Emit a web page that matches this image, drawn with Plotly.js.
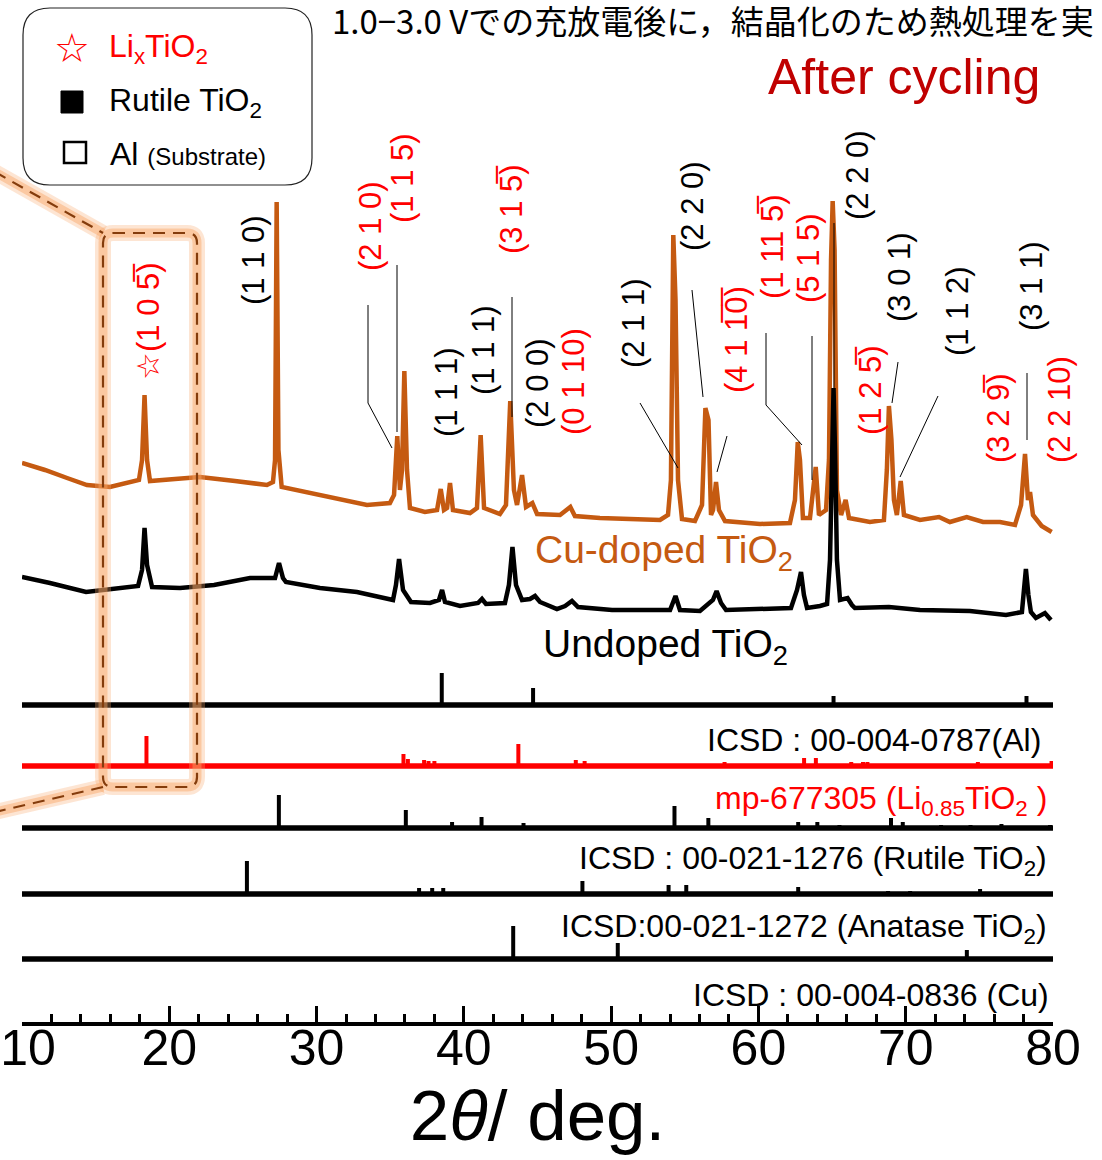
<!DOCTYPE html>
<html><head><meta charset="utf-8">
<script src="https://cdn.plot.ly/plotly-3.0.1.min.js"></script>
<style>html,body{margin:0;padding:0;background:#fff}</style>
</head><body><div id="chart" style="width:1102px;height:1160px"></div>
<script>
// ---------- DATA (2θ in degrees, intensity in a.u.) ----------
const cuDopedTheta = [10.0,11.56,13.06,14.41,15.97,17.54,17.94,18.15,18.32,18.49,18.69,20.39,22.08,24.46,26.63,27.04,27.18,27.29,27.41,27.63,28.87,31.11,33.42,34.98,35.26,35.48,35.66,35.80,35.96,36.14,36.34,37.36,38.18,38.43,38.65,38.86,39.06,39.26,40.42,40.89,41.14,41.37,42.45,42.86,43.15,43.40,43.61,43.95,44.22,44.65,44.97,46.53,47.23,47.54,49.24,51.28,53.32,53.86,54.06,54.22,54.37,54.54,54.81,55.69,56.17,56.40,56.61,56.78,56.92,57.12,57.32,57.73,60.11,62.14,62.48,62.67,62.82,63.02,63.50,63.89,64.11,64.59,64.79,64.93,65.04,65.17,65.33,65.61,65.92,66.15,67.57,68.52,68.72,68.86,69.03,69.20,69.40,69.66,69.88,70.97,72.26,73.00,74.14,75.25,76.40,77.42,77.83,78.10,78.30,78.44,78.64,79.23,79.91];
const cuDopedIntensity = [77,70,62,55,53,58,60,80,145,80,59,61,63,59,55,58,80,338,90,53,49,42,35,37,45,104,50,70,169,70,32,28,30,51,30,32,57,30,27,32,105,32,26,35,139,50,35,65,33,37,26,25,33,24,22,21,20,25,60,305,240,60,21,19,35,132,120,25,30,58,30,19,16,17,40,98,80,22,22,73,25,30,80,280,339,290,50,25,40,22,18,20,70,134,100,40,25,59,25,20,23,18,23,18,18,15,35,86,40,48,25,14,8];

const undopedTheta = [10.0,11.90,14.35,16.65,17.88,18.15,18.32,18.49,18.83,20.73,23.04,25.48,27.18,27.45,27.72,27.92,30.23,32.74,35.19,35.39,35.60,35.87,36.41,37.70,38.31,38.52,38.72,39.74,40.96,41.23,41.50,42.79,43.06,43.30,43.54,43.95,44.49,44.83,45.17,46.32,46.87,47.34,47.75,50.06,51.96,54.00,54.37,54.67,56.03,56.91,57.16,57.46,57.80,60.11,62.21,62.62,62.89,63.09,63.30,64.18,64.66,64.86,65.00,65.10,65.20,65.33,65.54,66.05,66.35,66.55,68.86,70.97,74.36,76.81,77.89,78.06,78.16,78.33,78.50,78.84,79.45,79.86];
const undopedIntensity = [48,42,33,37,39,55,97,60,38,37,40,47,47,62,47,43,37,33,25,40,66,35,23,22,25,35,23,19,22,26,21,22,40,78,40,25,26,29,23,16,19,24,18,15,15,15,29,15,14,25,34,22,15,16,17,35,53,30,17,19,21,65,175,237,175,65,25,27,20,17,18,15,14,10,13,35,56,30,13,7,12,5];

// Reference stick patterns
const alTheta = [38.5, 44.7, 65.1, 78.2];
const alHeight = [32, 17, 9, 9];
const liTiO2Theta = [18.45, 35.9, 36.2, 37.3, 37.6, 38.0, 43.7, 47.6, 48.2, 57.7, 63.1, 63.9, 66.3, 67.1, 67.4, 74.9, 79.9];
const liTiO2Height = [30, 12, 7, 6, 5, 5, 22, 6, 5, 4, 8, 8, 4, 4, 4, 4, 5];
const rutileTheta = [27.44, 36.06, 39.2, 41.2, 44.05, 54.3, 56.6, 62.7, 64.0, 65.5, 69.0, 69.8, 72.4, 74.4, 76.5, 79.8];
const rutileHeight = [33, 18, 6, 11, 5, 22, 10, 6, 6, 3, 10, 6, 3, 3, 4, 3];
const anataseTheta = [25.27, 36.96, 37.85, 38.6, 48.05, 53.9, 55.1, 62.7, 68.8, 70.3, 75.05];
const anataseHeight = [33, 6, 6, 6, 13, 9, 9, 7, 3, 3, 5];
const cuRefTheta = [43.35, 50.45, 74.15];
const cuRefHeight = [33, 16, 9];

const tickValues = [10, 20, 30, 40, 50, 60, 70, 80];
const tickLabels = ['10', '20', '30', '40', '50', '60', '70', '80'];

// ---------- LAYOUT HELPERS ----------
const W = 1102, H = 1160, ML = 22, MR = 49, MT = 0, MB = 138;
const PW = W - ML - MR, PH = H - MT - MB;
const PX = p => (p - ML) / PW;
const PY = p => (MT + PH - p) / PH;

const ORANGE = '#c55a11', RED = '#ff0000', DARKRED = '#c00000';
const offsets = {cu: 482, undoped: 397, al: 317, li: 256, rutile: 194, anatase: 128, cuRef: 63};

const traces = [];
traces.push({type:'scatter', mode:'lines', x: cuDopedTheta, y: cuDopedIntensity.map(v => v + offsets.cu),
  line:{color: ORANGE, width: 4.5}, hoverinfo:'skip', showlegend:false, name:'Cu-doped TiO2'});
traces.push({type:'scatter', mode:'lines', x: undopedTheta, y: undopedIntensity.map(v => v + offsets.undoped),
  line:{color: '#000', width: 4.5}, hoverinfo:'skip', showlegend:false, name:'Undoped TiO2'});

function stickPattern(theta, h, base, color, name) {
  const x = [], y = [];
  theta.forEach((t, i) => { x.push(t, t, null); y.push(base, base + h[i], null); });
  traces.push({type:'scatter', mode:'lines', x:[9.9, 80.1], y:[base, base], line:{color, width:5.5},
    hoverinfo:'skip', showlegend:false, cliponaxis:false, name: name + ' base'});
  traces.push({type:'scatter', mode:'lines', x, y, line:{color, width:4}, connectgaps:false,
    hoverinfo:'skip', showlegend:false, name});
}
stickPattern(alTheta, alHeight, offsets.al, '#000', 'Al');
stickPattern(liTiO2Theta, liTiO2Height, offsets.li, RED, 'Li0.85TiO2');
stickPattern(rutileTheta, rutileHeight, offsets.rutile, '#000', 'Rutile');
stickPattern(anataseTheta, anataseHeight, offsets.anatase, '#000', 'Anatase');
stickPattern(cuRefTheta, cuRefHeight, offsets.cuRef, '#000', 'Cu');

// ---------- SHAPES ----------
const shapes = [];
function rrPath(x0, y0, x1, y1, r) {
  const X = PX, Y = PY;
  return `M ${X(x0+r)},${Y(y0)} L ${X(x1-r)},${Y(y0)} Q ${X(x1)},${Y(y0)} ${X(x1)},${Y(y0+r)} ` +
         `L ${X(x1)},${Y(y1-r)} Q ${X(x1)},${Y(y1)} ${X(x1-r)},${Y(y1)} L ${X(x0+r)},${Y(y1)} ` +
         `Q ${X(x0)},${Y(y1)} ${X(x0)},${Y(y1-r)} L ${X(x0)},${Y(y0+r)} Q ${X(x0)},${Y(y0)} ${X(x0+r)},${Y(y0)} Z`;
}
function seg(x0, y0, x1, y1, line, layer) {
  shapes.push({type:'line', xref:'paper', yref:'paper', x0:PX(x0), y0:PY(y0), x1:PX(x1), y1:PY(y1), line, layer: layer || 'above'});
}
// highlight box glow + dashed outline
const boxPath = rrPath(103, 233, 197, 787, 10);
[[16, 'rgba(248,170,110,0.30)'], [9, 'rgba(248,165,100,0.45)']].forEach(([w, c]) => {
  shapes.push({type:'path', xref:'paper', yref:'paper', path: boxPath, line:{color:c, width:w}, layer:'above'});
  seg(-5, 172, 103, 233, {color:c, width:w});
  seg(103, 787, -5, 812, {color:c, width:w});
});
shapes.push({type:'path', xref:'paper', yref:'paper', path: boxPath, line:{color:'#843c0c', width:2.2, dash:'12px,8px'}, layer:'above'});
seg(-5, 172, 103, 233, {color:'#843c0c', width:2.2, dash:'12px,8px'});
seg(103, 787, -5, 812, {color:'#843c0c', width:2.2, dash:'12px,8px'});

// legend box
shapes.push({type:'path', xref:'paper', yref:'paper', path: rrPath(23, 8, 312, 185, 27), line:{color:'#222', width:1.2}, fillcolor:'#fff', layer:'above'});
shapes.push({type:'rect', xref:'paper', yref:'paper', x0:PX(61), x1:PX(83), y0:PY(91), y1:PY(113), line:{color:'#000', width:1}, fillcolor:'#000'});
shapes.push({type:'rect', xref:'paper', yref:'paper', x0:PX(64), x1:PX(86), y0:PY(142), y1:PY(163), line:{color:'#000', width:2.5}, fillcolor:'rgba(0,0,0,0)'});

// leader lines
const thin = {color:'#000', width:1};
[[368,305,368,403],[368,403,392,448],[397,265,397,432],[512,297,512,417],[640,403,678,468],
 [692,290,703,397],[727,436,717,472],[766,333,766,405],[766,405,802,445],[812,336,812,480],
 [834,223,834,390],[898,362,892,403],[938,396,900,477],[1027,373,1027,440]].forEach(s => seg(s[0], s[1], s[2], s[3], thin));

// ---------- ANNOTATIONS ----------
const ann = [];
const SANS = 'Liberation Sans, Arial, sans-serif';
function txt(text, x, y, size, color, opts) {
  ann.push(Object.assign({xref:'paper', yref:'paper', x:PX(x), y:PY(y), text, showarrow:false,
    xanchor:'center', yanchor:'middle', font:{family:SANS, size, color}}, opts || {}));
}
const OB = '\u0305';
const hklBlack = [["(1 1 0)",253,260],["(1 1 1)",446,392],["(1 1 1)",483,350],["(2 0 0)",537,383],["(2 1 1)",633,323],
  ["(2 2 0)",692,206],["(2 2 0)",857,175],["(3 0 1)",900,277],["(1 1 2)",957,311],["(3 1 1)",1031,286]];
const hklRed = [["\u2606(1 0 5"+OB+")",149,321],["(2 1 0)",370,226],["(1 1 5)",402,178],["(3 1 5"+OB+")",512,209],
  ["(0 1 10)",573,382],["(4 1 1"+OB+"0"+OB+")",736,340],["(1 11 5"+OB+")",772,247],["(5 1 5)",808,258],
  ["(1 2 5"+OB+")",870,390],["(3 2 9"+OB+")",998,418],["(2 2 10)",1059,410]];
hklBlack.forEach(l => txt(l[0], l[1], l[2], 31, '#000', {textangle:-90}));
hklRed.forEach(l => txt(l[0], l[1], l[2], 31, RED, {textangle:-90}));

txt('1.0\u22123.0 V\u3067\u306e\u5145\u653e\u96fb\u5f8c\u306b\uff0c\u7d50\u6676\u5316\u306e\u305f\u3081\u71b1\u51e6\u7406\u3092\u5b9f', 330, 20, 33, '#000',
  {xanchor:'left', font:{family:'Noto Sans CJK JP, sans-serif', size:33, color:'#000'}});
txt('After cycling', 1042, 77, 50, DARKRED, {xanchor:'right'});

// legend text
txt('\u2606', 72, 48, 40, RED, {font:{family:'DejaVu Sans', size:40, color:RED}});
txt('Li<sub>x</sub>TiO<sub>2</sub>', 107, 48, 32, RED, {xanchor:'left'});
txt('Rutile TiO<sub>2</sub>', 107, 102, 32, '#000', {xanchor:'left'});
txt('Al <span style="font-size:24px">(Substrate)</span>', 108, 154, 32, '#000', {xanchor:'left'});

// sample labels
txt('Cu-doped TiO<sub>2</sub>', 533, 553, 39, ORANGE, {xanchor:'left'});
txt('Undoped TiO<sub>2</sub>', 541, 646, 39, '#000', {xanchor:'left'});

// reference labels
txt('ICSD : 00-004-0787(Al)', 1043, 740, 32, '#000', {xanchor:'right'});
txt('mp-677305 (Li<sub>0.85</sub>TiO<sub>2</sub> )', 1049, 800, 32, RED, {xanchor:'right'});
txt('ICSD : 00-021-1276 (Rutile TiO<sub>2</sub>)', 1049, 860, 32, '#000', {xanchor:'right'});
txt('ICSD:00-021-1272 (Anatase TiO<sub>2</sub>)', 1049, 928, 32, '#000', {xanchor:'right'});
txt('ICSD : 00-004-0836 (Cu)', 1051, 995, 32, '#000', {xanchor:'right'});

const AXFONT = 'Liberation Sans, Arial, sans-serif';
const layout = {
  width: W, height: H, margin:{l:ML, r:MR, t:MT, b:MB, pad:0},
  paper_bgcolor:'#fff', plot_bgcolor:'#fff', showlegend:false,
  xaxis:{range:[10, 80], showline:true, linewidth:4, linecolor:'#000', mirror:false, zeroline:false, showgrid:false,
    ticks:'inside', ticklen:16, tickwidth:3, tickcolor:'#000', tickmode:'array', tickvals:tickValues, ticktext:tickLabels,
    tickfont:{family:AXFONT, size:50, color:'#000'}, ticklabeloverflow:'allow', ticklabelstandoff:-21,
    minor:{dtick:2, tick0:10, ticks:'inside', ticklen:8, tickwidth:3, tickcolor:'#000', showgrid:false},
    title:{text:'2<i>\u03b8</i>/ deg.', font:{family:AXFONT, size:71, color:'#000'}, standoff:4}},
  yaxis:{range:[0, PH], visible:false, fixedrange:true},
  shapes, annotations: ann
};
Plotly.newPlot('chart', traces, layout, {staticPlot:true, displayModeBar:false}).then(() => {
  // keep the "10" label inside the page, as in the reference
  const first = document.querySelector('.xtick text');
  if (first && first.textContent === '10') {
    const t = first.getAttribute('transform') || '';
    first.setAttribute('transform', t + ' translate(6,0)');
  }
});
</script></body></html>
